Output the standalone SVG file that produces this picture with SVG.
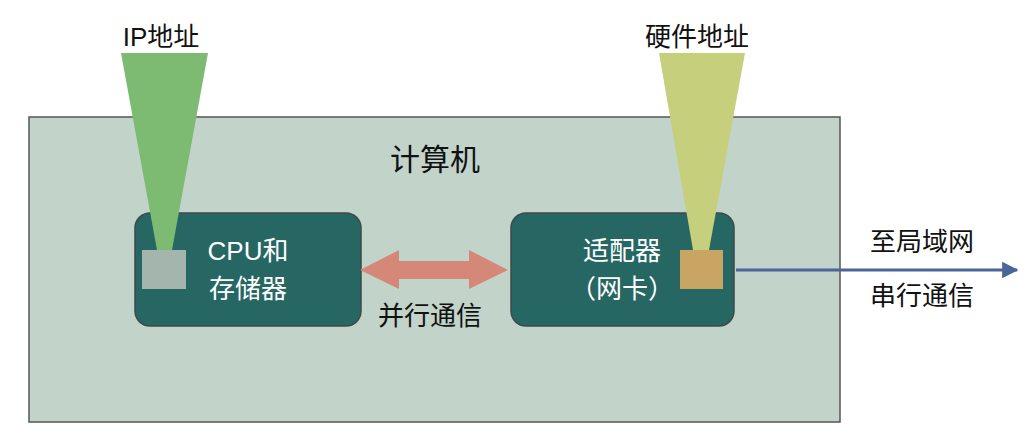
<svg xmlns="http://www.w3.org/2000/svg" width="1026" height="448" viewBox="0 0 1026 448">
<style>
text{font-family:"Liberation Sans","Noto Sans CJK SC",sans-serif;font-size:26px;text-anchor:middle;fill:#111}
.w{fill:#ffffff}
.node{fill:#266763;stroke:#3f4a48;stroke-width:1.5}
</style>
<defs>
<marker id="ah" viewBox="0 0 10 10" refX="9" refY="5" markerWidth="5.5" markerHeight="5.5" orient="auto"><path d="M0,0L10,5L0,10z" fill="#4a6599"/></marker>
</defs>
<rect width="1026" height="448" fill="#ffffff"/>
<g id="computer">
<rect x="29" y="117" width="811" height="305" fill="#c2d3c9" stroke="#555" stroke-width="1.5"/>
<text x="435" y="170" style="font-size:30px">计算机</text>
</g>
<g id="cpu">
<rect class="node" x="135" y="213" width="226" height="113" rx="15"/>
<rect x="142" y="250" width="44" height="39" fill="#a3b5ac"/>
<text class="w" x="248" y="260">CPU和</text>
<text class="w" x="248" y="298">存储器</text>
</g>
<g id="adapter">
<rect class="node" x="511" y="213" width="223" height="113" rx="15"/>
<rect x="680" y="250" width="43" height="39" fill="#c9a563"/>
<text class="w" x="622" y="260">适配器</text>
<text class="w" x="622" y="298">（网卡）</text>
</g>
<g id="ip">
<polygon points="121,53 208,53 172,250 157,250" fill="#7dbb73"/>
<text x="161" y="46">IP地址</text>
</g>
<g id="hw">
<polygon points="659,53 745,53 709,250 693,250" fill="#c5cf7c"/>
<text x="697" y="46">硬件地址</text>
</g>
<g id="connectors">
<polygon points="360,270 399,250 399,261 469,261 469,250 508,270 469,289 469,279 399,279 399,289" fill="#d58878"/>
<line x1="736" y1="270" x2="1017" y2="270" stroke="#4a6599" stroke-width="3" marker-end="url(#ah)"/>
</g>
<g id="labels">
<text x="430" y="325">并行通信</text>
<text x="922" y="251">至局域网</text>
<text x="922" y="305">串行通信</text>
</g>
</svg>
